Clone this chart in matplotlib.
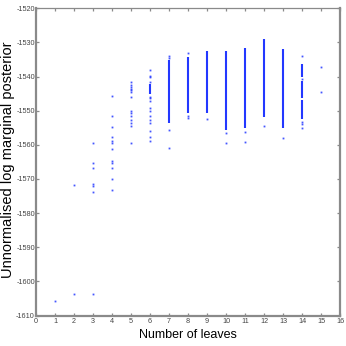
import matplotlib
matplotlib.use("Agg")
import matplotlib.pyplot as plt

# Dense runs of samples (drawn as continuous vertical strokes)
seg_x  = [6, 7, 8, 9, 10, 11, 12, 13, 14, 14, 14]
seg_lo = [-1545.2, -1553.7, -1550.8, -1550.8, -1555.7, -1555.2, -1551.8, -1555.2, -1540.1, -1546.4, -1552.5]
seg_hi = [-1542.3, -1535.2, -1534.2, -1532.5, -1532.5, -1531.6, -1529.0, -1531.9, -1536.3, -1541.3, -1546.9]

# Isolated samples
pt_x = ([1] + [2] * 2 + [3] * 7 + [4] * 12 + [5] * 14 + [6] * 15 + [7] * 4 + [8] * 3
        + [9] + [10] * 2 + [11] * 2 + [12] + [13] + [14] * 5 + [15] * 2)
pt_y = ([-1605.6]
        + [-1603.7, -1571.9]
        + [-1559.6, -1565.3, -1566.7, -1571.6, -1572.1, -1573.7, -1603.7]
        + [-1545.6, -1551.5, -1554.8, -1557.7, -1558.9, -1559.6, -1561.1, -1564.7, -1565.3, -1566.9, -1570.0, -1573.1]
        + [-1541.5, -1542.5, -1543.0, -1543.5, -1544.0, -1544.5, -1545.9, -1550.0, -1550.6, -1551.6, -1552.6, -1553.5, -1554.5, -1559.4]
        + [-1538.1, -1539.9, -1540.2, -1541.5, -1545.9, -1546.4, -1547.2, -1549.3, -1550.0, -1551.5, -1552.8, -1553.6, -1556.0, -1557.7, -1559.0]
        + [-1533.9, -1534.5, -1555.7, -1560.9]
        + [-1533.2, -1551.6, -1552.2]
        + [-1552.3]
        + [-1556.4, -1559.6]
        + [-1556.2, -1559.1]
        + [-1554.5]
        + [-1558.1]
        + [-1533.9, -1540.8, -1553.3, -1553.9, -1555.2]
        + [-1537.1, -1544.5])

x_ticks = list(range(0, 17))
y_ticks = list(range(-1610, -1519, 10))

plt.rcParams['font.family'] = ['Liberation Sans', 'DejaVu Sans']

fig = plt.figure(figsize=(3.46, 3.46), dpi=100)
ax = fig.add_axes([0.104, 0.088, 0.879, 0.888])

color = '#2338ff'
ax.vlines(seg_x, seg_lo, seg_hi, colors=color, linewidth=1.5)
ax.plot(pt_x, pt_y, linestyle='none', marker='s', markersize=1.3,
        markeredgewidth=0, color=color, alpha=0.85)

ax.set_xlim(0, 16)
ax.set_ylim(-1610, -1520)
ax.set_xticks(x_ticks)
ax.set_yticks(y_ticks)
ax.set_xticklabels([str(v) for v in x_ticks])
ax.set_yticklabels([str(v) for v in y_ticks])

ax.tick_params(direction='in', length=2.2, width=0.9, color='#8a8a8a',
               labelsize=5.2, labelcolor='#444444', top=True, right=True)
ax.tick_params(axis='y', pad=0.8)
ax.tick_params(axis='x', pad=2)
for side in ['left', 'right', 'bottom']:
    ax.spines[side].set_color('#8a8a8a')
    ax.spines[side].set_linewidth(1.6)
ax.spines['top'].set_color('#8a8a8a')
ax.spines['top'].set_linewidth(0.9)

ax.set_xlabel('Number of leaves', fontsize=9, labelpad=3)
fig.text(8.3 / 346, 1 - 160 / 346, 'Unnormalised log marginal posterior',
         rotation=90, ha='center', va='center', fontsize=10.5)

fig.savefig('out.png', dpi=100)
